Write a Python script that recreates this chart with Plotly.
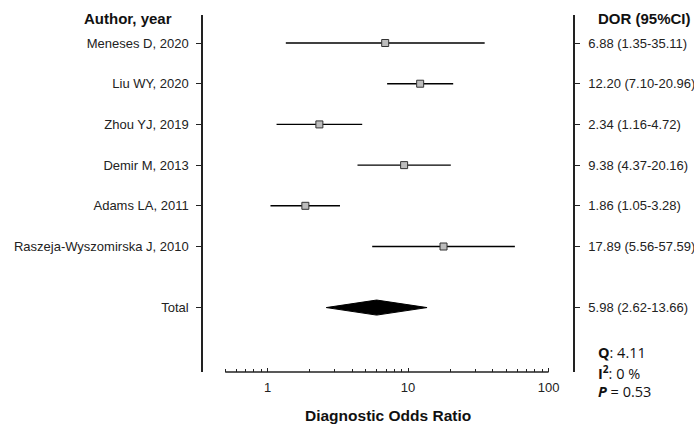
import plotly.graph_objects as go

# Study-level diagnostic odds ratios with 95% confidence intervals
studies = ["Meneses D, 2020", "Liu WY, 2020", "Zhou YJ, 2019", "Demir M, 2013",
           "Adams LA, 2011", "Raszeja-Wyszomirska J, 2010"]
dor = [6.88, 12.20, 2.34, 9.38, 1.86, 17.89]
ci_low = [1.35, 7.10, 1.16, 4.37, 1.05, 5.56]
ci_high = [35.11, 20.96, 4.72, 20.16, 3.28, 57.59]

# Pooled estimate
total_label = "Total"
total_dor = 5.98
total_low = 2.62
total_high = 13.66

# Heterogeneity statistics
q_stat = 4.11
i2 = 0
p_value = 0.53

row_pos = list(range(len(studies)))
total_pos = len(studies) + 0.5

major_ticks = [1, 10, 100]
minor_ticks = [0.5, 0.6, 0.7, 0.8, 0.9, 2, 3, 4, 5, 6, 7, 8, 9,
               20, 30, 40, 50, 60, 70, 80, 90]

label_font = dict(family="Liberation Sans, Arial, sans-serif", size=13, color="#222")

fig = go.Figure()

# Individual study estimates with CI whiskers
fig.add_trace(go.Scatter(
    x=dor, y=row_pos, mode="markers",
    marker=dict(symbol="square", size=7, color="#bdbdbd",
                line=dict(color="#333", width=1)),
    error_x=dict(type="data", symmetric=False,
                 array=[h - d for h, d in zip(ci_high, dor)],
                 arrayminus=[d - l for d, l in zip(dor, ci_low)],
                 width=0, thickness=1.4, color="#000"),
    showlegend=False, hoverinfo="skip",
))

# Pooled-effect diamond
half_h = 0.185
fig.add_trace(go.Scatter(
    x=[total_low, total_dor, total_high, total_dor, total_low],
    y=[total_pos, total_pos - half_h, total_pos, total_pos + half_h, total_pos],
    mode="lines", fill="toself", fillcolor="black",
    line=dict(color="black", width=1),
    showlegend=False, hoverinfo="skip",
))

y_vals = row_pos + [total_pos]
left_text = studies + [total_label]
right_text = [f"{d:.2f} ({l:.2f}-{h:.2f})" for d, l, h in zip(dor, ci_low, ci_high)]
right_text.append(f"{total_dor:.2f} ({total_low:.2f}-{total_high:.2f})")

y_range = [8.083, -0.688]

# Placeholder trace so the right-hand axis is drawn
fig.add_trace(go.Scatter(x=[1], y=[0], yaxis="y2", mode="markers",
                         marker=dict(opacity=0), showlegend=False, hoverinfo="skip"))

fig.update_layout(
    template="none",
    width=694, height=425,
    margin=dict(l=203, r=121, t=15, b=53, autoexpand=False),
    paper_bgcolor="white", plot_bgcolor="white",
    xaxis=dict(
        type="log", range=[-0.459, 2.174], showline=False, showgrid=False,
        zeroline=False, tickmode="array", tickvals=major_ticks,
        ticktext=[str(t) for t in major_ticks],
        ticks="inside", ticklen=4, tickcolor="#222", tickwidth=1,
        tickfont=label_font, ticklabelstandoff=6, automargin=False,
        minor=dict(tickmode="array", tickvals=minor_ticks, ticks="inside",
                   ticklen=3, tickcolor="#222", showgrid=False),
    ),
    yaxis=dict(
        range=y_range, showgrid=False, zeroline=False, automargin=False,
        showline=True, linecolor="#222", linewidth=1.5,
        tickmode="array", tickvals=y_vals, ticktext=left_text,
        ticks="outside", ticklen=5, tickcolor="#222", tickfont=label_font,
        ticklabelstandoff=5,
    ),
    yaxis2=dict(
        range=y_range, overlaying="y", side="right", showgrid=False,
        zeroline=False, showline=True, linecolor="#222", linewidth=1.5,
        tickmode="array", tickvals=y_vals, ticktext=right_text, automargin=False,
        ticks="outside", ticklen=5, tickcolor="#222", tickfont=label_font,
        ticklabelstandoff=6,
    ),
    shapes=[dict(type="line", xref="x", yref="paper",
                 x0=minor_ticks[0], x1=major_ticks[-1],
                 y0=0, y1=0, line=dict(color="#222", width=1.5))],
)

bold_font = dict(family="Liberation Sans, Arial, sans-serif", size=15, color="#111")
title_font = dict(family="Liberation Sans, Arial, sans-serif", size=15.5, color="#111")
stat_font = dict(family="Open Sans, Noto Sans, sans-serif", size=14.5, color="#111")

fig.add_annotation(text="<b>Author, year</b>", xref="paper", yref="paper",
                   x=-0.327, y=0.99, xanchor="left", yanchor="middle",
                   showarrow=False, font=bold_font)
fig.add_annotation(text="<b>DOR (95%CI)</b>", xref="paper", yref="paper",
                   x=1.062, y=0.99, xanchor="left", yanchor="middle",
                   showarrow=False, font=bold_font)
fig.add_annotation(text="<b>Diagnostic Odds Ratio</b>", xref="paper", yref="paper",
                   x=0.5, y=-0.121, xanchor="center", yanchor="middle",
                   showarrow=False, font=title_font)

stats = [f"<b>Q</b>: {q_stat:.2f}",
         f"<b>I<sup>2</sup></b>: {i2} %",
         f"<b><i>P</i></b> = {p_value:.2f}"]
for k, s in enumerate(stats):
    fig.add_annotation(text=s, xref="paper", yref="paper",
                       x=1.062, y=0.056 - k * 0.056, xanchor="left", yanchor="middle",
                       showarrow=False, font=stat_font)

fig.write_html("out.html")
